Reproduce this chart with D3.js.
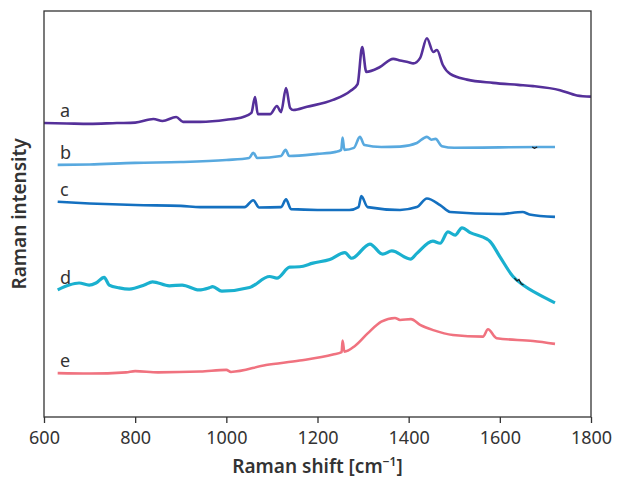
<!DOCTYPE html>
<html lang="en">
<head>
  <meta charset="UTF-8" />
  <title>Raman spectra</title>
  <script src="https://d3js.org/d3.v7.min.js"></script>
  <style>
    body { margin: 0; background: #fff; font-family: "Noto Sans", sans-serif; }
    svg text { fill: #333; }
  </style>
</head>
<body>
  <svg width="618" height="481"></svg>

  <script>
    // spectra: [Raman shift cm-1, intensity a.u. (offset)]
    const specA = [
      [600,72.4],[650,72.3],[700,72.2],[760,72.4],[800,72.5],[840,73.4],[860,72.9],[890,73.9],[905,72.7],
      [943,72.7],[1000,73.2],[1037,73.9],[1055,74.9],[1063,78.8],[1069,74.6],[1096,74.6],[1111,76.6],
      [1120,75.1],[1131,81.0],[1140,76.1],[1147,75.6],[1177,76.4],[1234,78.1],[1272,80.3],[1288,82.0],
      [1298,91.1],[1307,85.0],[1337,86.2],[1366,88.2],[1381,87.8],[1400,87.4],[1410,87.1],[1425,88.4],
      [1440,93.3],[1454,89.9],[1462,90.4],[1475,86.7],[1491,84.5],[1528,83.1],[1585,82.3],[1640,81.8],
      [1673,81.5],[1732,80.5],[1769,79.2],[1800,78.9]
    ];
    const specB = [
      [630,62.1],[700,62.2],[800,62.6],[900,62.8],[1000,63.3],[1050,63.8],[1059,65.1],[1068,63.8],
      [1120,64.3],[1130,65.8],[1138,64.3],[1200,64.8],[1240,65.3],[1252,65.8],[1255,68.8],[1259,65.8],
      [1280,66.3],[1293,69.0],[1303,67.0],[1340,66.5],[1381,66.6],[1418,67.5],[1440,69.0],[1450,68.3],
      [1459,68.5],[1473,66.7],[1500,66.3],[1600,66.4],[1700,66.5],[1721,66.5]
    ];
    const specC = [
      [630,53.0],[700,52.6],[800,52.2],[900,52.0],[943,51.7],[1040,51.7],[1059,53.4],[1072,51.6],
      [1120,51.7],[1131,53.6],[1142,51.2],[1200,51.0],[1270,51.0],[1290,51.7],[1296,54.4],[1310,51.7],
      [1381,51.0],[1418,51.7],[1440,53.8],[1469,52.2],[1491,50.5],[1600,50.0],[1650,50.5],[1665,49.9],
      [1721,49.3]
    ];
    const specD = [
      [630,31.3],[655,32.5],[677,33.0],[699,32.5],[714,33.0],[732,34.4],[743,32.5],[765,31.8],[787,31.5],
      [820,32.5],[838,33.3],[875,32.3],[903,32.5],[940,31.3],[962,31.8],[970,32.1],[990,31.0],[1051,31.9],
      [1095,34.6],[1111,34.2],[1139,36.9],[1161,37.0],[1190,37.9],[1227,38.8],[1260,40.5],[1275,39.1],
      [1315,42.6],[1343,40.1],[1363,40.9],[1404,38.9],[1418,40.3],[1453,43.3],[1469,42.8],[1486,45.6],
      [1502,44.8],[1517,46.6],[1535,45.4],[1572,43.8],[1578,43.3],[1600,39.5],[1629,34.6],[1651,32.5],
      [1688,30.0],[1721,28.1]
    ];
    const specE = [
      [630,10.8],[700,10.7],[780,11.0],[800,11.3],[850,11.0],[943,11.2],[1000,11.6],[1010,11.1],
      [1087,12.8],[1161,13.9],[1234,15.4],[1253,16.0],[1255,18.8],[1259,16.1],[1282,17.5],[1310,20.6],
      [1340,23.5],[1370,24.4],[1381,23.9],[1405,24.1],[1425,22.7],[1454,21.4],[1497,20.2],[1563,19.8],
      [1574,21.6],[1593,19.4],[1673,18.7],[1721,18.0]
    ];
    // small dark glitches visible on traces b and d
    const glitchB = [[1671,66.5],[1676,66.2],[1682,66.5]];
    const glitchD = [[1632,34.2],[1638,33.5],[1642,33.9],[1647,32.8],[1652,32.5]];

    const labels = ["a", "b", "c", "d", "e"];
    const colors = ["#55309a", "#58a9df", "#1470c0", "#1ab0cf", "#f0727f"];
    const xTicks = [600, 800, 1000, 1200, 1400, 1600, 1800];

    const series = [specA, specB, specC, specD, specE];
    const margin = { top: 11, right: 27, bottom: 64, left: 44 };
    const width = 618, height = 481;

    const svg = d3.select("svg");
    const x = d3.scaleLinear().domain([600, 1800]).range([margin.left, width - margin.right]);
    const y = d3.scaleLinear().domain([0, 100]).range([height - margin.bottom, margin.top]);

    const line = d3.line()
      .x(d => x(d[0]))
      .y(d => y(d[1]))
      .curve(d3.curveMonotoneX);

    svg.selectAll("path.spec")
      .data(series)
      .enter()
      .append("path")
      .attr("class", "spec")
      .attr("d", line)
      .attr("fill", "none")
      .attr("stroke", (d, i) => colors[i])
      .attr("stroke-width", (d, i) => i == 3 ? 3.2 : 2.6)
      .attr("stroke-linejoin", "round");

    svg.selectAll("path.glitch")
      .data([glitchB, glitchD])
      .enter()
      .append("path")
      .attr("class", "glitch")
      .attr("d", d3.line().x(d => x(d[0])).y(d => y(d[1])))
      .attr("fill", "none")
      .attr("stroke", "#1a1a1a")
      .attr("stroke-width", 1.2);

    // curve letters, placed just above the left end of each trace
    svg.selectAll("text.lbl")
      .data(series)
      .enter()
      .append("text")
      .attr("class", "lbl")
      .attr("x", 60)
      .attr("y", d => y(d[0][1]) - 6)
      .attr("font-size", "18px")
      .text((d, i) => labels[i]);

    // frame
    svg.append("rect")
      .attr("x", margin.left)
      .attr("y", margin.top)
      .attr("width", width - margin.left - margin.right)
      .attr("height", height - margin.top - margin.bottom)
      .attr("fill", "none")
      .attr("stroke", "#333")
      .attr("stroke-width", 1.3);

    const xAxis = svg.append("g")
      .attr("transform", `translate(0,${height - margin.bottom})`)
      .call(d3.axisBottom(x).tickValues(xTicks).tickSize(6).tickPadding(8).tickFormat(d3.format("d")));
    xAxis.select(".domain").remove();
    xAxis.selectAll("line").attr("stroke", "#333").attr("stroke-width", 1.3);
    xAxis.selectAll("text").attr("font-size", "18px").attr("font-family", "Noto Sans").attr("fill", "#333");

    svg.append("text")
      .attr("x", (margin.left + width - margin.right) / 2)
      .attr("y", 473)
      .attr("text-anchor", "middle")
      .attr("font-size", "19px")
      .attr("font-weight", 600)
      .html("Raman shift [cm<tspan dy='-7' font-size='12px'>\u22121</tspan><tspan dy='7'>]</tspan>");

    svg.append("text")
      .attr("transform", `translate(26,${(margin.top + height - margin.bottom) / 2}) rotate(-90)`)
      .attr("text-anchor", "middle")
      .attr("font-size", "19px")
      .attr("font-weight", 600)
      .text("Raman intensity");
  </script>
</body>
</html>
